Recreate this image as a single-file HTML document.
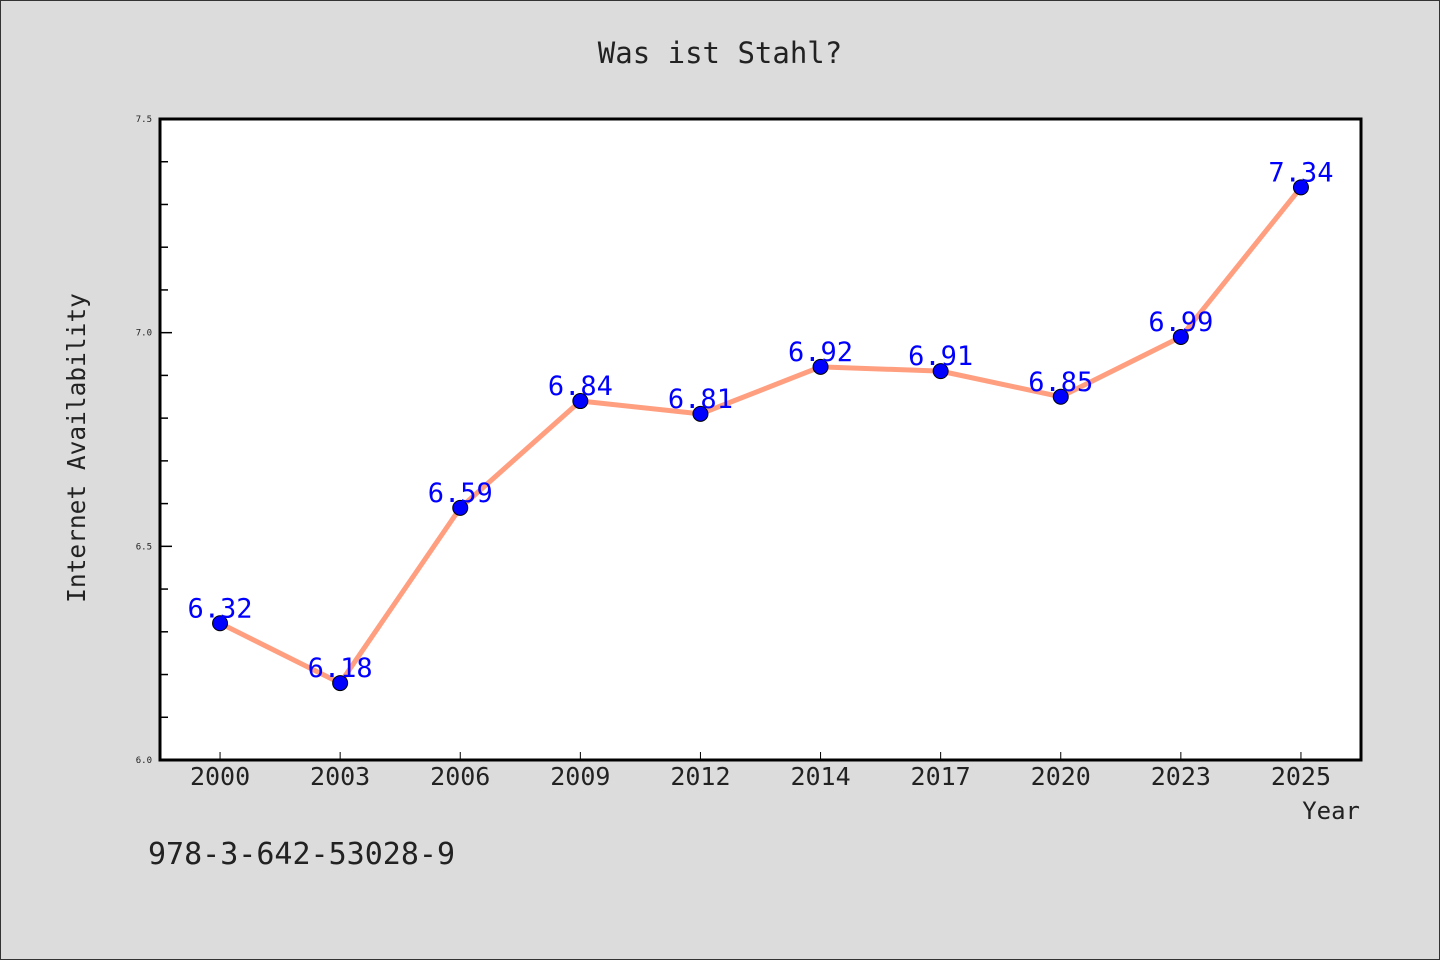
<!DOCTYPE html>
<html><head><meta charset="utf-8"><style>
html,body{margin:0;padding:0;background:#dcdcdc;}
svg{display:block;}
text{font-family:"DejaVu Sans Mono","Liberation Mono",monospace;}
</style></head><body>
<svg id="chart" width="1440" height="960" xmlns="http://www.w3.org/2000/svg">
<rect x="0.5" y="0.5" width="1439" height="959" fill="#dcdcdc" stroke="#333"/>
<text x="720" y="63" font-size="29" text-anchor="middle" fill="#222">Was ist Stahl?</text>
<rect x="160" y="119" width="1201" height="641" fill="#fff"/>
<g id="axes"></g>
<g id="series"></g>
<rect x="160" y="119" width="1201" height="641" fill="none" stroke="#000" stroke-width="3"/>
<text transform="translate(85,448) rotate(-90)" font-size="24.5" text-anchor="middle" fill="#222">Internet Availability</text>
<text x="1360" y="819" font-size="24" text-anchor="end" fill="#222">Year</text>
<text x="148" y="864" font-size="30" fill="#222">978-3-642-53028-9</text>
</svg>
<script>
const categories = ["2000","2003","2006","2009","2012","2014","2017","2020","2023","2025"];
const values = [6.32,6.18,6.59,6.84,6.81,6.92,6.91,6.85,6.99,7.34];
const yTickLabels = ["6.0","6.5","7.0","7.5"];
const yMin = 6.0, yMax = 7.5;
const L=160,R=1361,T=119,B=760;
const NS="http://www.w3.org/2000/svg";
const band=(R-L)/categories.length;
function xs(i){return L+band*(i+0.5);}
function ys(v){return B-(v-yMin)/(yMax-yMin)*(B-T);}
function mk(tag,attrs,parent){const e=document.createElementNS(NS,tag);for(const k in attrs)e.setAttribute(k,attrs[k]);parent.appendChild(e);return e;}
const axes=document.getElementById('axes');
for(let k=0;k<=15;k++){
  const v=yMin+k*0.1;const y=ys(v);const major=k%5===0;
  const t=mk('line',{x1:L,x2:L+(major?12:8),y1:y,y2:y,stroke:'#000','stroke-width':1.5},axes);
  
  
}
yTickLabels.forEach(s=>{
  const t=mk('text',{x:L-8,y:ys(parseFloat(s))+3,'font-size':9,'text-anchor':'end',fill:'#222'},axes);
  t.textContent=s;
  
  
});
categories.forEach((c,i)=>{
  const tk=mk('line',{x1:xs(i),x2:xs(i),y1:B-8,y2:B,stroke:'#000','stroke-width':1},axes);
  
  
  const t=mk('text',{x:xs(i),y:B+25,'font-size':25,'text-anchor':'middle',fill:'#222'},axes);
  t.textContent=c;
  
  
});
const g=document.getElementById('series');
const pts=values.map((v,i)=>xs(i)+','+ys(v)).join(' ');
const line=mk('polyline',{points:pts,fill:'none',stroke:'#ff9f80','stroke-width':5,'stroke-linejoin':'round'},g);


values.forEach((v,i)=>{
  const c=mk('circle',{cx:xs(i),cy:ys(v),r:7.5,fill:'#0000ff',stroke:'#000','stroke-width':1},g);
  
  
});
values.forEach((v,i)=>{
  const t=mk('text',{x:xs(i),y:ys(v)-6,'font-size':27,'text-anchor':'middle',fill:'#0000ff'},g);
  t.textContent=v.toFixed(2);
  
  
});
</script>
</body></html>
